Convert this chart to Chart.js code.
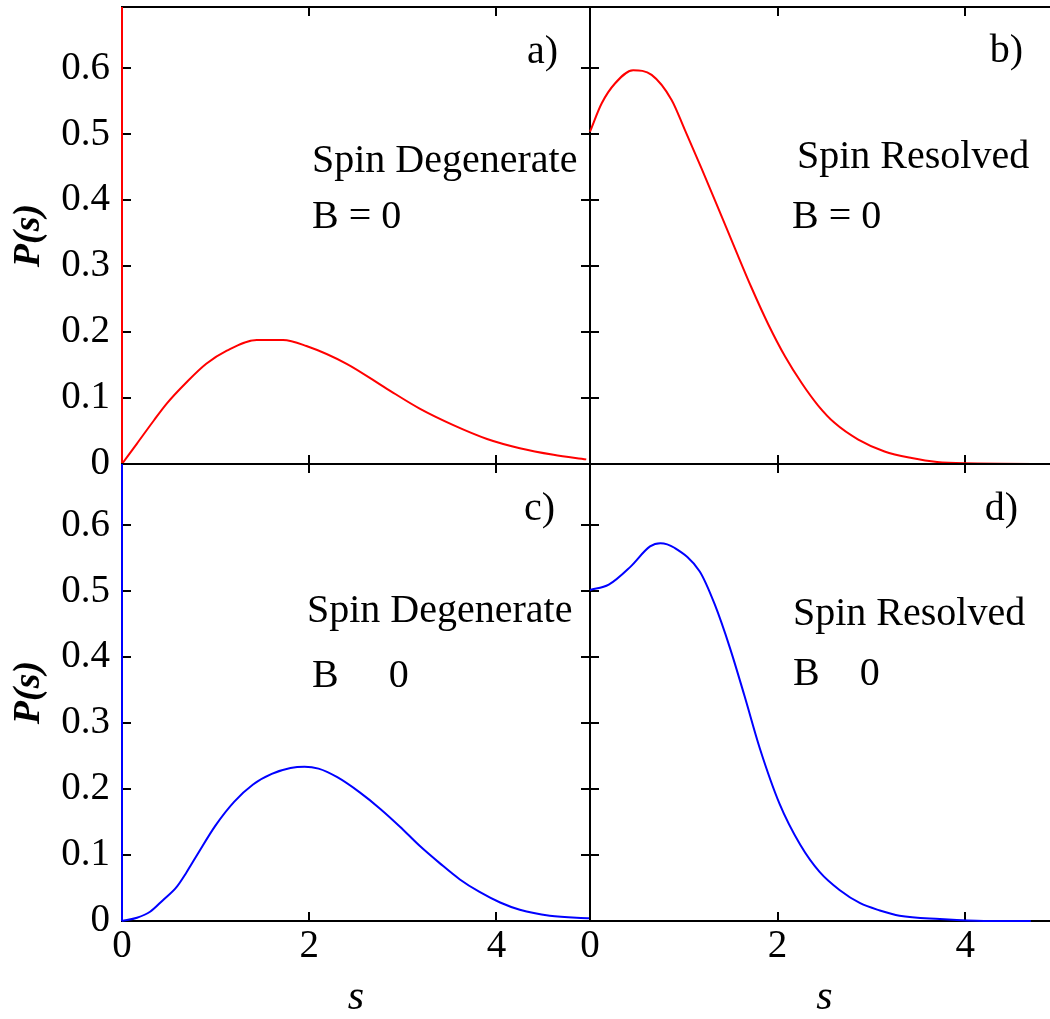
<!DOCTYPE html>
<html>
<head>
<meta charset="utf-8">
<script src="https://cdn.jsdelivr.net/npm/chart.js@4.4.0/dist/chart.umd.min.js"></script>
<style>
  html, body { margin: 0; padding: 0; background: #fff; overflow: hidden; width: 1050px; height: 1019px; }
  .panel { position: absolute; }
</style>
</head>
<body>
<div class="panel" style="left:0;top:0"><canvas id="panelA" width="600" height="474"></canvas></div>
<div class="panel" style="left:570px;top:0"><canvas id="panelB" width="499" height="474"></canvas></div>
<div class="panel" style="left:0;top:457px"><canvas id="panelC" width="600" height="562"></canvas></div>
<div class="panel" style="left:570px;top:457px"><canvas id="panelD" width="499" height="562"></canvas></div>
<script>
/* ─── Level spacing distributions P(s) ───────────────────────── */

const X_TICKS = [0, 2, 4];
const Y_TICKS = [0, 0.1, 0.2, 0.3, 0.4, 0.5, 0.6];

// a) spin degenerate, B = 0
const A_S = [0, 0.16, 0.34, 0.48, 0.69, 0.9, 1.12, 1.44, 1.72, 1.97, 2.4, 2.83, 3.18, 3.54, 3.9, 4.25, 4.61, 4.96];
const A_P = [0, 0.031, 0.066, 0.092, 0.124, 0.152, 0.172, 0.188, 0.188, 0.179, 0.152, 0.114, 0.084, 0.059, 0.038, 0.024, 0.014, 0.007];

// b) spin resolved, B = 0
const B_S = [0, 0.125, 0.266, 0.46, 0.657, 0.87, 1.01, 1.19, 1.37, 1.545, 1.72, 1.9, 2.08, 2.26, 2.43, 2.61, 2.86, 3.14, 3.43, 3.7, 4.0, 5.0];
const B_P = [0.504, 0.547, 0.577, 0.597, 0.590, 0.552, 0.507, 0.448, 0.387, 0.327, 0.268, 0.212, 0.163, 0.122, 0.089, 0.062, 0.037, 0.019, 0.009, 0.003, 0.001, 0];

// c) spin degenerate, B != 0
const C_S = [0, 0.16, 0.3, 0.44, 0.58, 0.69, 0.81, 1.0, 1.2, 1.4, 1.6, 1.8, 1.95, 2.1, 2.3, 2.54, 2.76, 2.97, 3.18, 3.4, 3.61, 3.82, 4.04, 4.25, 4.57, 5.0];
const C_P = [0, 0.005, 0.014, 0.032, 0.051, 0.074, 0.102, 0.145, 0.181, 0.207, 0.223, 0.232, 0.234, 0.231, 0.218, 0.195, 0.17, 0.143, 0.114, 0.087, 0.063, 0.044, 0.028, 0.017, 0.008, 0.004];

// d) spin resolved, B != 0
const D_S = [0, 0.2, 0.43, 0.64, 0.75, 0.9, 1.17, 1.33, 1.49, 1.65, 1.81, 2.02, 2.24, 2.45, 2.66, 2.88, 3.09, 3.3, 3.73, 4.2, 4.7];
const D_P = [0.502, 0.51, 0.537, 0.568, 0.573, 0.566, 0.53, 0.48, 0.415, 0.34, 0.262, 0.178, 0.116, 0.074, 0.047, 0.027, 0.016, 0.008, 0.003, 0, 0];

// spike at s = 0 in the degenerate panels
const SPIKE_S = [0, 0];
const SPIKE_P = [0.693, 0];

const Y_MAX = 0.693;
const X_MAX = 5;
const TICK_LEN = 9;
const SERIF = "'Liberation Serif', 'Times New Roman', serif";

function pts(xs, ys) {
  return xs.map((x, i) => ({ x, y: ys[i] }));
}

// fixed axis box sizes so the four frames butt together exactly
function fixWidth(w) {
  return s => { s.width = w; s.paddingTop = 0; s.paddingBottom = 0; s.paddingLeft = 0; s.paddingRight = 0; };
}
function fixHeight(h) {
  return s => { s.height = h; s.paddingTop = 0; s.paddingBottom = 0; s.paddingLeft = 0; s.paddingRight = 0; };
}

// frame + inward ticks on all four sides, and the panel notes
const frame = {
  id: 'frame',
  beforeDatasetsDraw(chart) {
    const { ctx, chartArea: a, scales: { x, y } } = chart;
    ctx.save();
    ctx.strokeStyle = '#000';
    ctx.lineWidth = 2;
    ctx.beginPath();
    x.ticks.forEach(t => {
      if (t.value <= x.min || t.value >= x.max) return;
      const px = Math.round(x.getPixelForValue(t.value));
      ctx.moveTo(px, a.bottom); ctx.lineTo(px, a.bottom - TICK_LEN);
      ctx.moveTo(px, a.top);    ctx.lineTo(px, a.top + TICK_LEN);
    });
    y.ticks.forEach(t => {
      if (t.value <= y.min || t.value >= y.max) return;
      const py = Math.round(y.getPixelForValue(t.value));
      ctx.moveTo(a.left, py);  ctx.lineTo(a.left + TICK_LEN, py);
      ctx.moveTo(a.right, py); ctx.lineTo(a.right - TICK_LEN, py);
    });
    ctx.stroke();
    ctx.strokeRect(a.left, a.top, a.width, a.height);
    ctx.restore();
  },
  afterDatasetsDraw(chart, args, opts) {
    const { ctx, chartArea: a } = chart;
    ctx.save();
    ctx.fillStyle = '#000';
    ctx.font = '40px ' + SERIF;
    ctx.textBaseline = 'alphabetic';
    (opts.notes || []).forEach(n => {
      ctx.textAlign = n.align || 'left';
      ctx.fillText(n.text, a.left + n.dx, a.top + n.dy);
    });
    ctx.restore();
  }
};

function makePanel(id, cfg) {
  const datasets = [];
  if (cfg.spike) {
    datasets.push({
      data: pts(SPIKE_S, SPIKE_P),
      borderColor: cfg.color, borderWidth: 2, pointRadius: 0, tension: 0, clip: 4
    });
  }
  datasets.push({
    data: pts(cfg.s, cfg.p),
    borderColor: cfg.color, borderWidth: 2, pointRadius: 0,
    cubicInterpolationMode: 'monotone', clip: 4
  });

  return new Chart(document.getElementById(id), {
    type: 'line',
    data: { datasets },
    plugins: [frame],
    options: {
      responsive: false,
      animation: false,
      events: [],
      layout: { padding: cfg.padding },
      plugins: {
        legend: { display: false },
        tooltip: { enabled: false },
        frame: { notes: cfg.notes }
      },
      scales: {
        x: {
          type: 'linear', min: 0, max: X_MAX,
          afterBuildTicks: s => { s.ticks = X_TICKS.map(v => ({ value: v })); },
          grid: { display: false },
          border: { display: false },
          ticks: {
            display: cfg.bottom, padding: -6, maxRotation: 0, autoSkip: false,
            color: '#000', font: { family: SERIF, size: 39 },
            callback: v => String(v)
          },
          title: {
            display: cfg.bottom, text: 's', color: '#000',
            font: { family: SERIF, size: 42, style: 'italic', lineHeight: 1 },
            padding: { top: 0, bottom: 0 }
          },
          afterFit: fixHeight(cfg.bottom ? 98 : 0)
        },
        y: {
          type: 'linear', min: 0, max: Y_MAX,
          afterBuildTicks: s => { s.ticks = Y_TICKS.map(v => ({ value: v })); },
          grid: { display: false },
          border: { display: false },
          ticks: {
            display: cfg.left, padding: 4, autoSkip: false,
            color: '#000', font: { family: SERIF, size: 39 },
            callback: v => String(v)
          },
          title: {
            display: cfg.left, text: 'P(s)', color: '#000',
            font: { family: SERIF, size: 38, style: 'italic', weight: 'bold', lineHeight: 1 },
            padding: { top: 10, bottom: 0 }
          },
          afterFit: fixWidth(cfg.left ? 122 : 0)
        }
      }
    }
  });
}

makePanel('panelA', {
  s: A_S, p: A_P, color: '#ff0000', spike: true, left: true, bottom: false,
  padding: { left: 0, top: 7, right: 10, bottom: 10 },
  notes: [
    { text: 'a)', dx: 436, dy: 56, align: 'right' },
    { text: 'Spin Degenerate', dx: 190, dy: 165 },
    { text: 'B = 0', dx: 190, dy: 221 }
  ]
});

makePanel('panelB', {
  s: B_S, p: B_P, color: '#ff0000', spike: false, left: false, bottom: false,
  padding: { left: 20, top: 7, right: 10, bottom: 10 },
  notes: [
    { text: 'b)', dx: 433, dy: 55, align: 'right' },
    { text: 'Spin Resolved', dx: 207, dy: 161 },
    { text: 'B = 0', dx: 202, dy: 221 }
  ]
});

makePanel('panelC', {
  s: C_S, p: C_P, color: '#0000ff', spike: true, left: true, bottom: true,
  padding: { left: 0, top: 7, right: 10, bottom: 0 },
  notes: [
    { text: 'c)', dx: 433, dy: 56, align: 'right' },
    { text: 'Spin Degenerate', dx: 185, dy: 158 },
    { text: 'B     0', dx: 190, dy: 223 }
  ]
});

makePanel('panelD', {
  s: D_S, p: D_P, color: '#0000ff', spike: false, left: false, bottom: true,
  padding: { left: 20, top: 7, right: 10, bottom: 0 },
  notes: [
    { text: 'd)', dx: 428, dy: 56, align: 'right' },
    { text: 'Spin Resolved', dx: 203, dy: 161 },
    { text: 'B    0', dx: 203, dy: 221 }
  ]
});
</script>
</body>
</html>
